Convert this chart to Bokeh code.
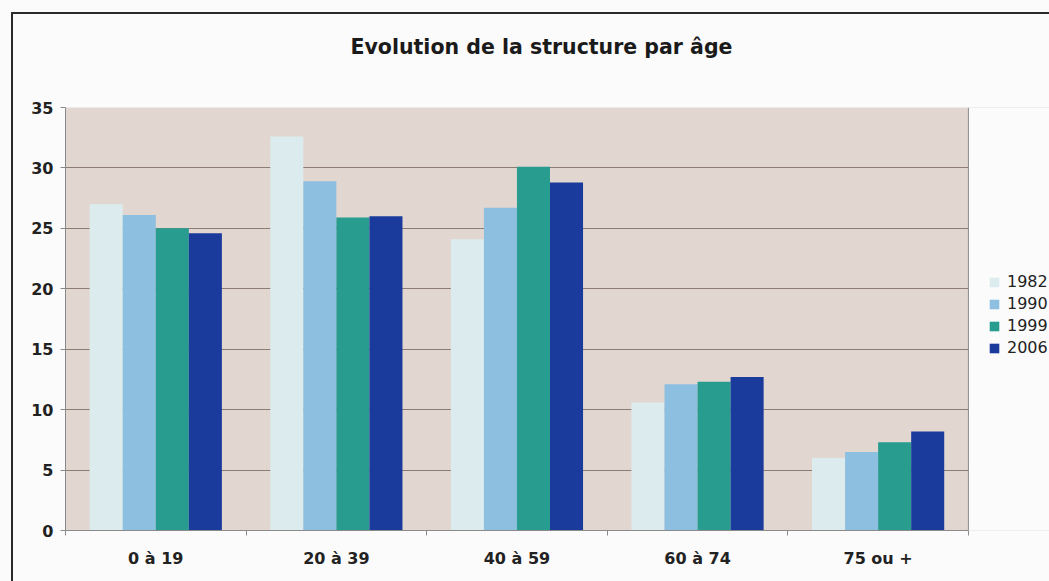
from bokeh.plotting import figure
from bokeh.models import (Range1d, FixedTicker, ColumnDataSource, Legend, LegendItem,
                          BoxAnnotation, Span)
from bokeh.transform import dodge
from bokeh.embed import file_html
from bokeh.resources import INLINE

categories = ["0 à 19", "20 à 39", "40 à 59", "60 à 74", "75 ou +"]
years = ["1982", "1990", "1999", "2006"]
v1982 = [27.0, 32.6, 24.1, 10.6, 6.0]
v1990 = [26.1, 28.9, 26.7, 12.1, 6.5]
v1999 = [25.0, 25.9, 30.1, 12.3, 7.3]
v2006 = [24.6, 26.0, 28.8, 12.7, 8.2]
colors = ["#dcecee", "#8dbfe0", "#279c8f", "#1a3a9c"]
y_ticks = [0, 5, 10, 15, 20, 25, 30, 35]

FONT = "DejaVu Sans"
PAGE = "#fbfbfb"
W, H = 1049, 581
n = len(categories)
x_lo, x_hi = -0.5, n - 0.5
p = figure(width=W, height=H, output_backend="svg", toolbar_location=None,
           x_range=Range1d(x_lo, x_hi + 0.449), y_range=Range1d(0, 35),
           min_border_left=65, min_border_right=0, min_border_top=107, min_border_bottom=51)
p.background_fill_color = "#e2d6d1"
p.border_fill_alpha = 0
p.outline_line_color = None
p.styles = {
    "background": ("linear-gradient(#2a2a2a,#2a2a2a) 11px 12px / 2px 700px no-repeat, "
                   "linear-gradient(#2a2a2a,#2a2a2a) 11px 12px / 1200px 2px no-repeat, " + PAGE),
}

idx = list(range(n))
src = ColumnDataSource(dict(idx=idx, cat=categories, **{"1982": v1982, "1990": v1990,
                                                        "1999": v1999, "2006": v2006}))
bw = 0.183
offsets = [-1.5 * bw, -0.5 * bw, 0.5 * bw, 1.5 * bw]
items = []
for y, c, off in zip(years, colors, offsets):
    r = p.vbar(x=dodge("idx", off, range=p.x_range), top=y, width=bw, source=src,
               fill_color=c, line_color=None)
    items.append(LegendItem(label=y, renderers=[r]))

# axes
p.xgrid.grid_line_color = None
p.ygrid.grid_line_color = "#8c7c74"
p.ygrid.grid_line_width = 1.2
p.yaxis.ticker = FixedTicker(ticks=y_ticks)
p.xaxis.ticker = FixedTicker(ticks=idx, minor_ticks=[i - 0.5 for i in range(n + 1)])
p.xaxis.major_label_overrides = {i: c for i, c in zip(idx, categories)}
p.xaxis.bounds = (x_lo, x_hi)
for ax in (p.xaxis, p.yaxis):
    ax.axis_line_color = "#8a8a8a"
    ax.major_label_text_font = FONT
    ax.major_label_text_font_style = "bold"
    ax.major_label_text_font_size = "16px"
    ax.major_label_text_color = "#222222"
p.xaxis.major_tick_line_color = None
p.xaxis.major_tick_out = 0
p.xaxis.major_tick_in = 0
p.xaxis.minor_tick_line_color = "#8a8a8a"
p.xaxis.minor_tick_out = 5
p.xaxis.minor_tick_in = 0
p.xaxis.major_label_standoff = 13
p.yaxis.minor_tick_line_color = None
p.yaxis.major_tick_line_color = "#8a8a8a"
p.yaxis.major_tick_out = 5
p.yaxis.major_tick_in = 0
p.yaxis.major_label_standoff = 7

# blank area to the right of the plot area (legend zone)
p.add_layout(BoxAnnotation(left=x_hi, fill_color=PAGE, fill_alpha=1, line_color=None))
p.add_layout(Span(location=x_hi, dimension="height", line_color="#8a8a8a", line_width=1))

legend = Legend(items=items, location=(923, 173), orientation="vertical",
                background_fill_alpha=0, border_line_color=None,
                glyph_width=12, glyph_height=12, label_height=18, spacing=3,
                padding=0, margin=0, label_standoff=7,
                label_text_font=FONT, label_text_font_size="16px",
                label_text_color="#222222")
p.add_layout(legend, "center")

p.title.text = "Evolution de la structure par âge"
p.title.align = "left"
p.title.offset = 285
p.title.standoff = 10
p.title.padding = (0, 0, 0, 44)
p.title.text_font = FONT
p.title.text_font_style = "bold"
p.title.text_font_size = "20.5px"
p.title.text_color = "#1a1a1a"

open("out.html", "w").write(file_html(p, INLINE))
